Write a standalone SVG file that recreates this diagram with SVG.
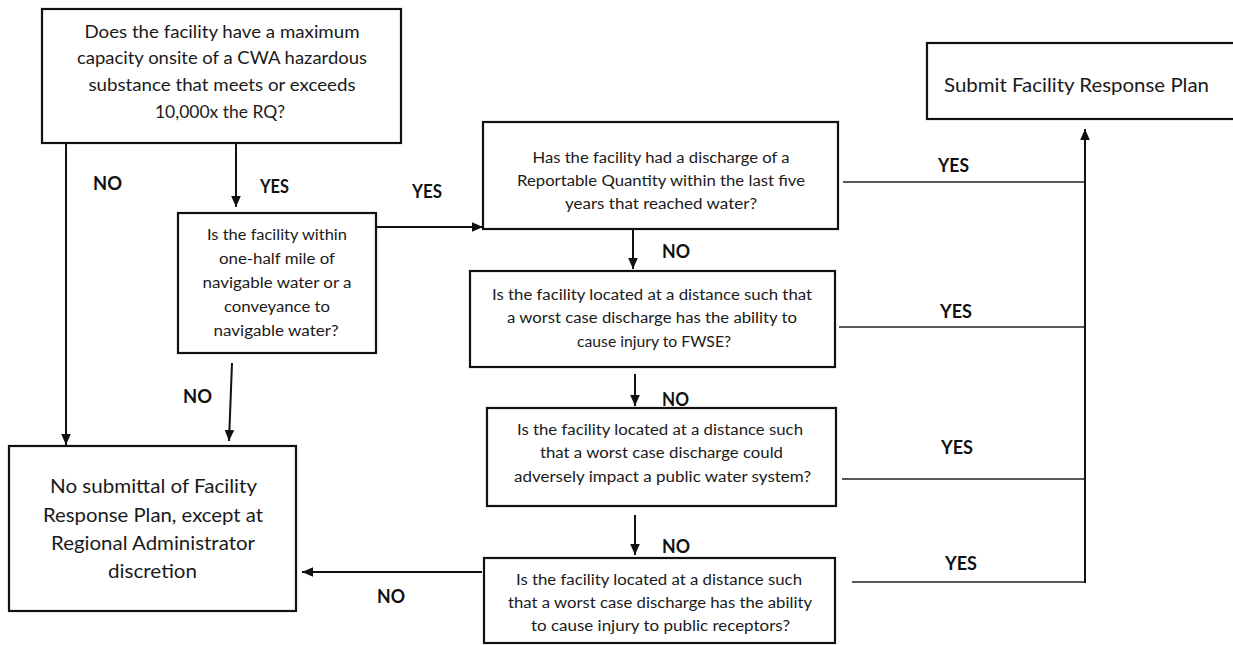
<svg xmlns="http://www.w3.org/2000/svg" width="1233" height="645" viewBox="0 0 1233 645">
<defs>
<style>
.box{fill:#fff;stroke:#111;stroke-width:2.2}
.t{font-family:Lato,"Open Sans","Liberation Sans",sans-serif;fill:#1a1a1a;text-anchor:middle}
.lbl{font-family:Lato,"Liberation Sans",sans-serif;font-weight:bold;font-size:18px;fill:#111}
.c{stroke:#111;stroke-width:2;fill:none}
.y{stroke:#222;stroke-width:1.6;fill:none}
</style>
<marker id="ah" markerUnits="userSpaceOnUse" markerWidth="12" markerHeight="12" viewBox="0 0 12 12" refX="11" refY="6" orient="auto">
<path d="M0,1.2 L11,6 L0,10.8 Z" fill="#111"/>
</marker>
</defs>
<rect width="1233" height="645" fill="#fff"/>

<g id="connectors">
<line class="c" x1="66" y1="143" x2="66" y2="445" marker-end="url(#ah)"/>
<line class="c" x1="236" y1="143" x2="236" y2="207" marker-end="url(#ah)"/>
<line class="c" x1="376" y1="227" x2="483" y2="227" marker-end="url(#ah)"/>
<line class="c" x1="232" y1="363" x2="229" y2="441" marker-end="url(#ah)"/>
<line class="c" x1="633" y1="229" x2="633" y2="269" marker-end="url(#ah)"/>
<line class="c" x1="635" y1="374" x2="635" y2="406" marker-end="url(#ah)"/>
<line class="c" x1="635" y1="515" x2="635" y2="555" marker-end="url(#ah)"/>
<line class="c" x1="482" y1="572" x2="302" y2="572" marker-end="url(#ah)"/>
<line class="y" x1="843" y1="182" x2="1085" y2="182"/>
<line class="y" x1="839" y1="327" x2="1085" y2="327"/>
<line class="y" x1="842" y1="479" x2="1085" y2="479"/>
<line class="y" x1="852" y1="582" x2="1085" y2="582"/>
<line class="c" x1="1085" y1="583" x2="1085" y2="129" marker-end="url(#ah)"/>
<text class="lbl" x="93" y="190" textLength="29" lengthAdjust="spacingAndGlyphs">NO</text>
<text class="lbl" x="260" y="193" textLength="29" lengthAdjust="spacingAndGlyphs">YES</text>
<text class="lbl" x="412" y="198" textLength="30" lengthAdjust="spacingAndGlyphs">YES</text>
<text class="lbl" x="662" y="258" textLength="28" lengthAdjust="spacingAndGlyphs">NO</text>
<text class="lbl" x="183" y="403" textLength="29" lengthAdjust="spacingAndGlyphs">NO</text>
<text class="lbl" x="662" y="406" textLength="27" lengthAdjust="spacingAndGlyphs">NO</text>
<text class="lbl" x="662" y="553" textLength="28" lengthAdjust="spacingAndGlyphs">NO</text>
<text class="lbl" x="377" y="603" textLength="28" lengthAdjust="spacingAndGlyphs">NO</text>
<text class="lbl" x="938" y="172" textLength="31" lengthAdjust="spacingAndGlyphs">YES</text>
<text class="lbl" x="940" y="318" textLength="32" lengthAdjust="spacingAndGlyphs">YES</text>
<text class="lbl" x="941" y="454" textLength="32" lengthAdjust="spacingAndGlyphs">YES</text>
<text class="lbl" x="945" y="570" textLength="32" lengthAdjust="spacingAndGlyphs">YES</text>
</g>

<g id="q-capacity">
<rect class="box" x="42" y="9" width="359" height="134"/>
<text class="t" font-size="18" x="222" y="38" textLength="275" lengthAdjust="spacingAndGlyphs">Does the facility have a maximum</text>
<text class="t" font-size="18" x="222" y="64" textLength="290" lengthAdjust="spacingAndGlyphs">capacity onsite of a CWA hazardous</text>
<text class="t" font-size="18" x="222" y="91" textLength="267" lengthAdjust="spacingAndGlyphs">substance that meets or exceeds</text>
<text class="t" font-size="18" x="220" y="118" textLength="130" lengthAdjust="spacingAndGlyphs">10,000x the RQ?</text>
</g>

<g id="q-halfmile">
<rect class="box" x="178" y="213" width="198" height="140"/>
<text class="t" font-size="15.5" x="277" y="240" textLength="140" lengthAdjust="spacingAndGlyphs">Is the facility within</text>
<text class="t" font-size="15.5" x="277" y="264" textLength="116" lengthAdjust="spacingAndGlyphs">one-half mile of</text>
<text class="t" font-size="15.5" x="277" y="288" textLength="149" lengthAdjust="spacingAndGlyphs">navigable water or a</text>
<text class="t" font-size="15.5" x="277" y="312" textLength="106" lengthAdjust="spacingAndGlyphs">conveyance to</text>
<text class="t" font-size="15.5" x="276" y="336" textLength="125" lengthAdjust="spacingAndGlyphs">navigable water?</text>
</g>

<g id="q-discharge">
<rect class="box" x="483" y="122" width="355" height="107"/>
<text class="t" font-size="14.5" x="661" y="163" textLength="257" lengthAdjust="spacingAndGlyphs">Has the facility had a discharge of a</text>
<text class="t" font-size="14.5" x="661" y="186" textLength="288" lengthAdjust="spacingAndGlyphs">Reportable Quantity within the last five</text>
<text class="t" font-size="14.5" x="661" y="209" textLength="192" lengthAdjust="spacingAndGlyphs">years that reached water?</text>
</g>

<g id="q-fwse">
<rect class="box" x="470" y="271" width="365" height="96"/>
<text class="t" font-size="14.5" x="652" y="300" textLength="320" lengthAdjust="spacingAndGlyphs">Is the facility located at a distance such that</text>
<text class="t" font-size="14.5" x="652" y="323" textLength="290" lengthAdjust="spacingAndGlyphs">a worst case discharge has the ability to</text>
<text class="t" font-size="14.5" x="654" y="347" textLength="154" lengthAdjust="spacingAndGlyphs">cause injury to FWSE?</text>
</g>

<g id="q-publicwater">
<rect class="box" x="487" y="408" width="349" height="98"/>
<text class="t" font-size="14.5" x="660" y="435" textLength="286" lengthAdjust="spacingAndGlyphs">Is the facility located at a distance such</text>
<text class="t" font-size="14.5" x="661.5" y="458" textLength="243" lengthAdjust="spacingAndGlyphs">that a worst case discharge could</text>
<text class="t" font-size="14.5" x="662.5" y="482" textLength="297" lengthAdjust="spacingAndGlyphs">adversely impact a public water system?</text>
</g>

<g id="q-receptors">
<rect class="box" x="484" y="558" width="351" height="85"/>
<text class="t" font-size="14.5" x="659" y="585" textLength="286" lengthAdjust="spacingAndGlyphs">Is the facility located at a distance such</text>
<text class="t" font-size="14.5" x="660" y="608" textLength="304" lengthAdjust="spacingAndGlyphs">that a worst case discharge has the ability</text>
<text class="t" font-size="14.5" x="660.5" y="631" textLength="259" lengthAdjust="spacingAndGlyphs">to cause injury to public receptors?</text>
</g>

<g id="no-submittal">
<rect class="box" x="9" y="446" width="287" height="165"/>
<text class="t" font-size="20" x="153.5" y="493" textLength="207" lengthAdjust="spacingAndGlyphs">No submittal of Facility</text>
<text class="t" font-size="20" x="153" y="522" textLength="220" lengthAdjust="spacingAndGlyphs">Response Plan, except at</text>
<text class="t" font-size="20" x="153" y="550" textLength="204" lengthAdjust="spacingAndGlyphs">Regional Administrator</text>
<text class="t" font-size="20" x="152.5" y="578" textLength="89" lengthAdjust="spacingAndGlyphs">discretion</text>
</g>

<g id="submit-frp">
<rect class="box" x="927" y="43" width="320" height="76"/>
<text class="t" font-size="19" x="944" y="92" style="text-anchor:start" textLength="265" lengthAdjust="spacingAndGlyphs">Submit Facility Response Plan</text>
</g>
</svg>
